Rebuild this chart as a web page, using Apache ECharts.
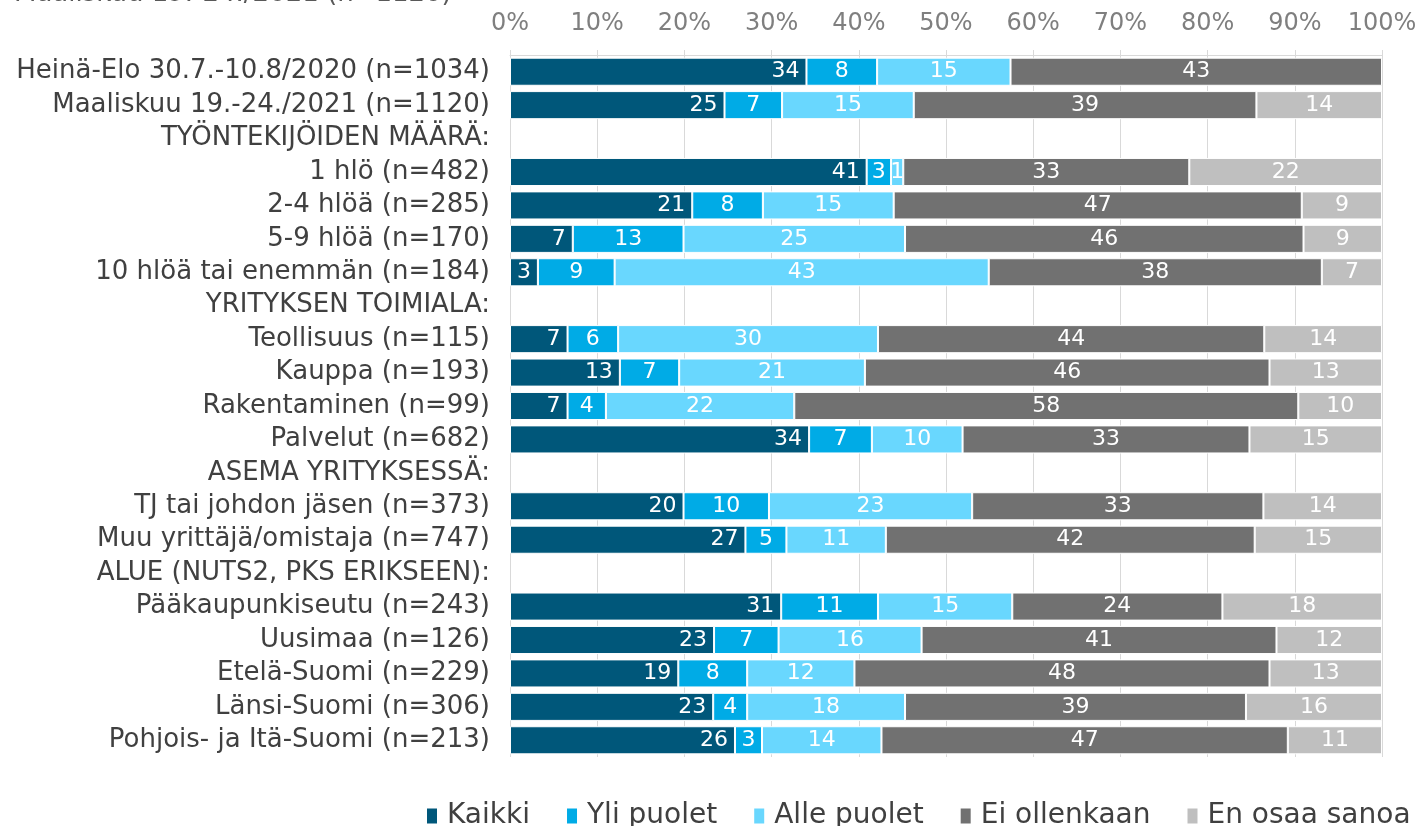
<!DOCTYPE html>
<html><head><meta charset="utf-8">
<script src="https://cdn.jsdelivr.net/npm/echarts@6/dist/echarts.min.js"></script>
<style>html,body{margin:0;padding:0;background:#fff}#c{width:1420px;height:826px}</style>
</head><body><div id="c"></div><script>
const titleText = 'Maaliskuu 19.-24./2021 (n=1120)';
const categories = [
  'Heinä-Elo 30.7.-10.8/2020 (n=1034)',
  'Maaliskuu 19.-24./2021 (n=1120)',
  'TYÖNTEKIJÖIDEN MÄÄRÄ:',
  '1 hlö (n=482)',
  '2-4 hlöä (n=285)',
  '5-9 hlöä (n=170)',
  '10 hlöä tai enemmän (n=184)',
  'YRITYKSEN TOIMIALA:',
  'Teollisuus (n=115)',
  'Kauppa (n=193)',
  'Rakentaminen (n=99)',
  'Palvelut (n=682)',
  'ASEMA YRITYKSESSÄ:',
  'TJ tai johdon jäsen (n=373)',
  'Muu yrittäjä/omistaja (n=747)',
  'ALUE (NUTS2, PKS ERIKSEEN):',
  'Pääkaupunkiseutu (n=243)',
  'Uusimaa (n=126)',
  'Etelä-Suomi (n=229)',
  'Länsi-Suomi (n=306)',
  'Pohjois- ja Itä-Suomi (n=213)'
];
const seriesNames = ['Kaikki', 'Yli puolet', 'Alle puolet', 'Ei ollenkaan', 'En osaa sanoa'];
const kaikki      = [34.0, 24.6, null, 40.9, 20.9, 7.2, 3.2, null, 6.6, 12.6, 6.6, 34.3, null, 19.9, 27.0, null, 31.1, 23.4, 19.3, 23.3, 25.8];
const yliPuolet   = [8.1, 6.6, null, 2.8, 8.1, 12.7, 8.8, null, 5.8, 6.8, 4.4, 7.2, null, 9.8, 4.7, null, 11.1, 7.4, 7.9, 3.9, 3.1];
const allePuolet  = [15.3, 15.1, null, 1.4, 15.0, 25.4, 42.9, null, 29.8, 21.3, 21.6, 10.4, null, 23.3, 11.4, null, 15.4, 16.4, 12.3, 18.1, 13.7];
const eiOllenkaan = [42.6, 39.3, null, 32.8, 46.8, 45.7, 38.2, null, 44.3, 46.4, 57.8, 32.9, null, 33.4, 42.3, null, 24.1, 40.7, 47.6, 39.1, 46.6];
const enOsaa      = [null, 14.4, null, 22.1, 9.2, 9.0, 6.9, null, 13.5, 12.9, 9.6, 15.2, null, 13.6, 14.6, null, 18.3, 12.1, 12.9, 15.6, 10.8];
const xTicks = [0, 10, 20, 30, 40, 50, 60, 70, 80, 90, 100];
const colors = ['#00577A', '#00ABE6', '#69D7FE', '#717171', '#BFBFBF'];

const FONT = 'DejaVu Sans';
const allData = [kaikki, yliPuolet, allePuolet, eiOllenkaan, enOsaa];
const chart = echarts.init(document.getElementById('c'), null, {renderer: 'canvas'});
chart.setOption({
  animation: false,
  textStyle: {fontFamily: FONT},
  graphic: [{
    type: 'text', left: 14, top: -19,
    style: {text: titleText, font: '26px "DejaVu Sans"', fill: '#595959'}
  }],
  legend: {
    top: 802, left: 425, width: 1100, padding: 0,
    itemWidth: 12, itemHeight: 17, itemGap: 35, icon: 'rect',
    textStyle: {fontSize: 28, color: '#404040', fontFamily: FONT, padding: [0, 0, 0, 4]},
    data: seriesNames
  },
  grid: {left: 510, right: 38, top: 55, bottom: 69},
  xAxis: {
    type: 'value', position: 'top', min: xTicks[0], max: xTicks[xTicks.length - 1], interval: 10,
    axisLabel: {formatter: '{value}%', fontSize: 24, color: '#7F7F7F', margin: 19, fontFamily: FONT},
    axisLine: {show: true, lineStyle: {color: '#D9D9D9', width: 1}},
    axisTick: {show: true, length: 5, lineStyle: {color: '#D9D9D9'}},
    splitLine: {show: true, lineStyle: {color: '#D9D9D9', width: 1}}
  },
  yAxis: {
    type: 'category', inverse: true, data: categories,
    axisLine: {show: false}, axisTick: {show: false},
    axisLabel: {interval: 0, fontSize: 26, color: '#404040', margin: 20, fontFamily: FONT}
  },
  series: seriesNames.map((name, i) => ({
    name, type: 'bar', stack: 'total', data: allData[i],
    barCategoryGap: '16%',
    itemStyle: {color: colors[i], borderColor: '#fff', borderWidth: 1},
    label: {
      show: true, position: i === 0 ? 'insideRight' : 'inside', distance: 7,
      color: '#fff', fontSize: 22, fontFamily: FONT,
      formatter: p => (p.value == null || p.value === 0) ? '' : String(Math.round(p.value))
    }
  }))
});
</script></body></html>
